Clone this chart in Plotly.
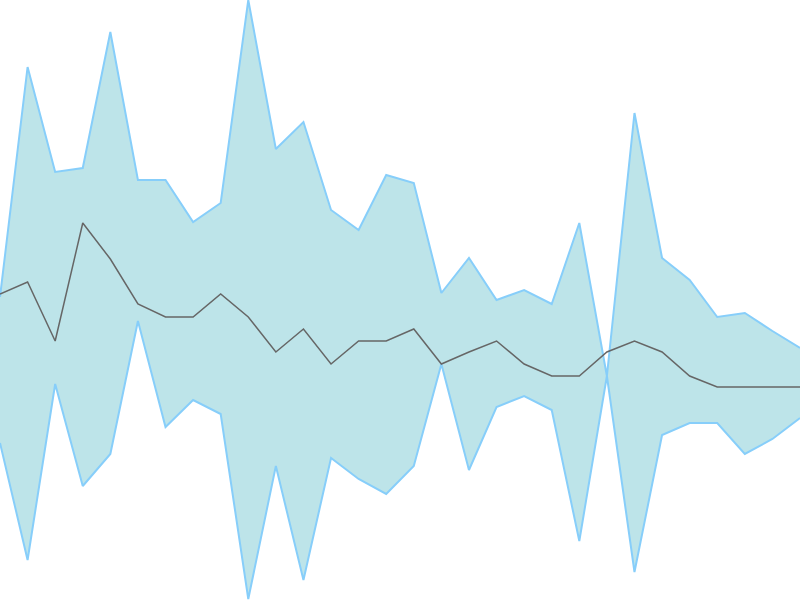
"""Band chart: upper / lower envelope with a middle line."""
from plotly.graph_objs import Scatter, Figure

FILL_COLOUR = 'rgba(189, 228, 233, 1)'
EDGE_COLOUR = 'rgb(135, 206, 250)'
MID_COLOUR = 'rgb(102, 102, 102)'

steps = list(range(30))

upper = [30.3, 53.3, 42.8, 43.2, 56.8, 42.0, 42.0, 37.8, 39.7, 60.0,
         45.1, 47.8, 39.0, 37.0, 42.5, 41.7, 30.7, 34.2, 30.0, 31.0,
         29.6, 37.7, 22.4, 48.7, 34.2, 32.0, 28.3, 28.7, 26.9, 25.2]

lower = [15.7, 4.0, 21.6, 11.4, 14.6, 27.9, 17.3, 20.0, 18.6, 0.1,
         13.4, 2.0, 14.2, 12.1, 10.6, 13.4, 23.6, 13.0, 19.3, 20.4,
         19.0, 5.9, 22.4, 2.8, 16.5, 17.7, 17.7, 14.6, 16.1, 18.2]

middle = [30.6, 31.8, 25.9, 37.7, 34.1, 29.6, 28.3, 28.3, 30.6, 28.3,
          24.8, 27.1, 23.6, 25.9, 25.9, 27.1, 23.6, 24.8, 25.9, 23.6,
          22.4, 22.4, 24.8, 25.9, 24.8, 22.4, 21.3, 21.3, 21.3, 21.3]

trace_upper = Scatter(x=steps, y=upper, mode='lines',
                      line={"color": EDGE_COLOUR, "width": 2},
                      hoverinfo='none')
trace_lower = Scatter(x=steps, y=lower, mode='lines',
                      line={"color": EDGE_COLOUR, "width": 2},
                      fill='tonexty', fillcolor=FILL_COLOUR,
                      hoverinfo='none')
trace_mid = Scatter(x=steps, y=middle, mode='lines',
                    line={"color": MID_COLOUR, "width": 1.5},
                    hoverinfo='none')

fig = Figure(data=[trace_upper, trace_lower, trace_mid])
fig.update_layout(width=800, height=600, showlegend=False,
                  margin={"l": 0, "r": 0, "t": 0, "b": 0},
                  paper_bgcolor='white', plot_bgcolor='white')
fig.update_xaxes(visible=False, range=[0, 29])
fig.update_yaxes(visible=False, range=[0, 60])

# drop the default page margin so the chart sits flush in the window
fig.write_html("out.html",
               config={"displayModeBar": False},
               post_script="document.body.style.margin='0';document.body.style.overflow='hidden';")
